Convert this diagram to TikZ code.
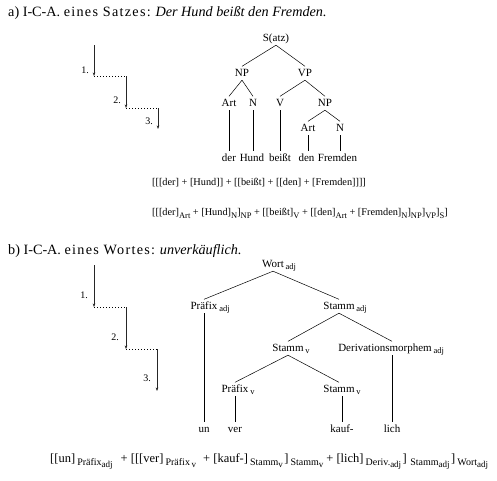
\documentclass[tikz,border=0pt]{standalone}
\usepackage{fontspec}
\setmainfont{Liberation Serif}
\usetikzlibrary{arrows.meta}
\newcommand\tsb[1]{\raisebox{-2.6pt}{\fontsize{8.5}{10}\selectfont #1}}
\newcommand\ssub[2]{#1\rlap{\,\tsb{#2}}}
\newcommand\fa[1]{\raisebox{-3pt}{\fontsize{8.5}{10}\selectfont #1}}
\newcommand\fs[1]{\raisebox{-3pt}{\fontsize{10}{11}\selectfont #1}}
\newcommand\fss[1]{\raisebox{-2.8pt}{\fontsize{9}{10}\selectfont #1}}
\begin{document}
\begin{tikzpicture}[x=1pt,y=-1pt,
  tl/.style={font=\fontsize{11}{13}\selectfont, anchor=base, inner sep=1.5pt, text height=8pt, text depth=2.5pt},
  wd/.style={tl},
  edge/.style={line width=0.5pt},
  arr/.style={line width=0.6pt, black!85, -{Stealth[length=3.5pt,width=2.6pt]}},
  dots/.style={line width=0.8pt, dash pattern=on 0.8pt off 2.2pt},
  num/.style={font=\fontsize{10}{12}\selectfont, inner sep=0pt},
  ttl/.style={font=\fontsize{14.2}{16}\selectfont, anchor=base west, inner sep=0pt},
  fml/.style={font=\fontsize{10.3}{13}\selectfont, anchor=base west, inner sep=0pt}]
\useasboundingbox (0,0) rectangle (497,480);

% ---------- part a ----------
\node[ttl] (ta) at (8,16.5) {a) I-C-A. {\addfontfeature{LetterSpace=9}eines Satzes:} \textit{Der Hund beißt den Fremden.}};

% steps a
\coordinate (a0) at (94,45);
\coordinate (a1) at (94,76);
\coordinate (a2) at (126,76);
\coordinate (a3) at (126,108);
\coordinate (a4) at (158,108);
\coordinate (a5) at (158,129);
\draw[arr] (a0) -- (a1);
\draw[dots] (a1) -- (a2);
\draw[arr] (a2) -- (a3);
\draw[dots] (a3) -- (a4);
\draw[arr] (a4) -- (a5);
\node[num] (na1) at (85,70) {1.};
\node[num] (na2) at (117,100) {2.};
\node[num] (na3) at (149,121) {3.};

% tree a
\node[tl] (S) at (276,41) {S(atz)};
\node[tl] (NP) at (242,76) {NP};
\node[tl] (VP) at (305,76) {VP};
\node[tl] (Art) at (229,106) {Art};
\node[tl] (N) at (253,106) {N};
\node[tl] (V) at (280,106) {V};
\node[tl] (NPb) at (325,106) {NP};
\node[tl] (Artb) at (308,131) {Art};
\node[tl] (Nb) at (340,131) {N};
\node[wd] (der) at (229,161) {der};
\node[wd] (hund) at (252,161) {Hund};
\node[wd] (beisst) at (280,161) {beißt};
\node[wd] (den) at (306.5,161) {den};
\node[wd] (fremden) at (337.5,161) {Fremden};
\draw[edge] (S.south) -- (NP.north);
\draw[edge] (S.south) -- (VP.north);
\draw[edge] (NP.south) -- (Art.north);
\draw[edge] (NP.south) -- (N.north);
\draw[edge] (VP.south) -- (V.north);
\draw[edge] (VP.south) -- (NPb.north);
\draw[edge] (NPb.south) -- (Artb.north);
\draw[edge] (NPb.south) -- (Nb.north);
\draw[edge] (Art.south) -- (Art.south |- der.north);
\draw[edge] (N.south) -- (N.south |- hund.north);
\draw[edge] (V.south) -- (V.south |- beisst.north);
\draw[edge] (Artb.south) -- (Artb.south |- den.north);
\draw[edge] (Nb.south) -- (Nb.south |- fremden.north);

% formulas a
\node[fml] (fa1) at (152,185) {[[[der] + [Hund]] + [[beißt] + [[den] + [Fremden]]]]};
\node[fml] (fa2) at (152,215) {[[[der]\fa{Art} + [Hund]\fa{N}]\fa{NP} + [[beißt]\fa{V} + [[den]\fa{Art} + [Fremden]\fa{N}]\fa{NP}]\fa{VP}]\fa{S}]};

% ---------- part b ----------
\node[ttl] (tb) at (8,254) {b) I-C-A. {\addfontfeature{LetterSpace=9}eines Wortes:} \textit{unverkäuflich.}};

% steps b
\coordinate (b0) at (94,265);
\coordinate (b1) at (94,307);
\coordinate (b2) at (126,307);
\coordinate (b3) at (126,349);
\coordinate (b4) at (157,349);
\coordinate (b5) at (157,391);
\draw[arr] (b0) -- (b1);
\draw[dots] (b1) -- (b2);
\draw[arr] (b2) -- (b3);
\draw[dots] (b3) -- (b4);
\draw[arr] (b4) -- (b5);
\node[num] (nb1) at (84,295) {1.};
\node[num] (nb2) at (115,337) {2.};
\node[num] (nb3) at (147,378) {3.};

% tree b
\node[tl] (W) at (273,267) {\ssub{Wort}{adj}};
\node[tl] (PA) at (204,309) {\ssub{Präfix}{adj}};
\node[tl] (SA) at (339,309) {\ssub{Stamm}{adj}};
\node[tl] (SV) at (288,351) {\ssub{Stamm}{v}};
\node[tl] (DM) at (385,351) {\ssub{Derivationsmorphem}{adj}};
\node[tl] (PV) at (235,392) {\ssub{Präfix}{v}};
\node[tl] (SVb) at (339,392) {\ssub{Stamm}{v}};
\node[wd] (un) at (204,432) {un};
\node[wd] (ver) at (235,432) {ver};
\node[wd] (kauf) at (342,432) {kauf-};
\node[wd] (lich) at (392,432) {lich};
\draw[edge] (W.south) -- (PA.north);
\draw[edge] (W.south) -- (SA.north);
\draw[edge] (SA.south) -- (SV.north);
\draw[edge] (SA.south) -- (DM.north -| lich.north);
\draw[edge] (SV.south) -- (PV.north);
\draw[edge] (SV.south) -- (SVb.north);
\draw[edge] (PA.south) -- (PA.south |- un.north);
\draw[edge] (PV.south) -- (PV.south |- ver.north);
\draw[edge] (kauf.north |- SVb.south) -- (kauf.north);
\draw[edge] (lich.north |- DM.south) -- (lich.north);

% formula b
\node[fml, font=\fontsize{12.5}{14}\selectfont] (fb) at (50,462) {[[un]\,\fs{Präfix\fss{adj}}\hspace{8pt}+ [[[ver]\,\fs{Präfix\,\fss{v}}\hspace{7pt}+ [kauf-]\hspace{2pt}\fs{Stamm\fss{v}}\hspace{1.5pt}]\hspace{2pt}\fs{Stamm\fss{v}}\hspace{3pt}+ [lich]\hspace{2pt}\fs{Deriv.\fss{adj}}\hspace{1.5pt}]\hspace{3.5pt}\fs{Stamm\fss{adj}}\hspace{1.5pt}]\hspace{2pt}\fs{Wort\fss{adj}}};
\end{tikzpicture}
\end{document}
